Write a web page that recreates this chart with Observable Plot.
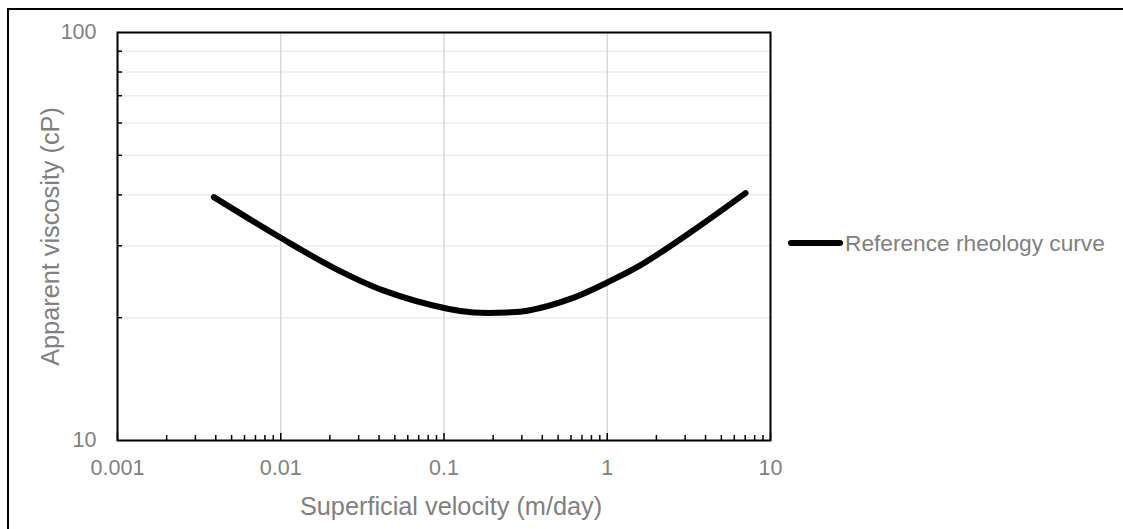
<!DOCTYPE html>
<html>
<head>
<meta charset="utf-8">
<script src="https://cdn.jsdelivr.net/npm/d3@7"></script>
<script src="https://cdn.jsdelivr.net/npm/@observablehq/plot@0.6"></script>
<style>
  html, body { margin: 0; padding: 0; background: #fff; overflow: hidden; }
  #wrap { position: relative; width: 1123px; height: 529px; font-family: "Liberation Sans", Arial, sans-serif; }
  #border { position: absolute; left: 7px; top: 8px; width: 1200px; height: 600px; border: 2px solid #000; pointer-events: none; }
  #legend { position: absolute; left: 788px; top: 228px; height: 30px; display: flex; align-items: center; }
  #legend .sw { width: 55px; height: 6px; background: #000; border-radius: 3px; }
  #legend .lb { font-size: 22.7px; color: #808080; margin-left: 2px; white-space: nowrap; }
</style>
</head>
<body>
<div id="wrap"><div id="border"></div></div>
<script>
// Data
const velocity = [0.00389, 0.01, 0.0211, 0.0428, 0.107, 0.152, 0.244, 0.324, 0.624, 1.0, 1.60, 3.24, 7.03];
const viscosity = [39.5, 31.4, 26.5, 23.3, 21.0, 20.6, 20.6, 20.8, 22.4, 24.4, 26.9, 32.4, 40.4];
const seriesName = "Reference rheology curve";
const xTitle = "Superficial velocity (m/day)";
const yTitle = "Apparent viscosity (cP)";
const xMajorTicks = [0.001, 0.01, 0.1, 1, 10];
const xGridTicks = [0.01, 0.1, 1];
const yLabelTicks = [10, 100];
const xMinorTicks = [0.001, 0.01, 0.1, 1].flatMap(d => [2,3,4,5,6,7,8,9].map(m => +(d * m).toPrecision(3)));
const yMinorTicks = [20, 30, 40, 50, 60, 70, 80, 90];

const data = velocity.map((v, i) => ({v, mu: viscosity[i]}));
const gray = "#808080";
const fs = 21.5;
const fsTitle = 25.3;

const chart = Plot.plot({
  width: 1123,
  height: 529,
  marginLeft: 117,
  marginTop: 32,
  marginRight: 353,
  marginBottom: 89,
  style: {fontFamily: '"Liberation Sans", Arial, sans-serif', background: "transparent", overflow: "visible"},
  x: {type: "log", domain: [0.001, 10]},
  y: {type: "log", domain: [10, 100]},
  marks: [
    Plot.gridY(yMinorTicks, {stroke: "#ececec", strokeOpacity: 1, strokeWidth: 1.5}),
    Plot.gridX(xGridTicks, {stroke: "#d9d9d9", strokeOpacity: 1, strokeWidth: 1.5}),
    Plot.axisX(xMinorTicks, {tickSize: 5, dy: -5, text: null, label: null, stroke: "#000", strokeWidth: 1.5}),
    Plot.axisX(xMajorTicks, {tickSize: 7, dy: -7, text: null, label: null, stroke: "#000", strokeWidth: 1.5}),
    Plot.axisX(xMajorTicks, {tickSize: 0, tickPadding: 19, tickFormat: d => String(d), fontSize: fs, fill: gray, label: null}),
    Plot.axisY(yMinorTicks, {tickSize: 5, dx: 5, text: null, label: null, stroke: "#000", strokeWidth: 1.5}),
    Plot.axisY(yLabelTicks, {tickSize: 0, tickPadding: 21, tickFormat: d => String(d), fontSize: fs, fill: gray, label: null}),
    Plot.frame({stroke: "#000", strokeWidth: 2}),
    Plot.line(data, {x: "v", y: "mu", stroke: "#000", strokeWidth: 6, curve: "catmull-rom", strokeLinecap: "round", strokeLinejoin: "round"}),
    Plot.text([xTitle], {frameAnchor: "bottom", lineAnchor: "middle", textAnchor: "middle", dy: 66, dx: 7, fontSize: fsTitle, fill: gray, text: d => d}),
    Plot.text([yTitle], {frameAnchor: "left", lineAnchor: "middle", textAnchor: "middle", rotate: -90, dx: -67, fontSize: fsTitle, fill: gray, text: d => d})
  ]
});
chart.style.position = "absolute";
chart.style.left = "0px";
chart.style.top = "0px";
const wrap = document.getElementById("wrap");
wrap.insertBefore(chart, wrap.firstChild);

const legend = document.createElement("div");
legend.id = "legend";
legend.innerHTML = `<div class="sw"></div><div class="lb"></div>`;
legend.querySelector(".lb").textContent = seriesName;
wrap.appendChild(legend);
</script>
</body>
</html>
